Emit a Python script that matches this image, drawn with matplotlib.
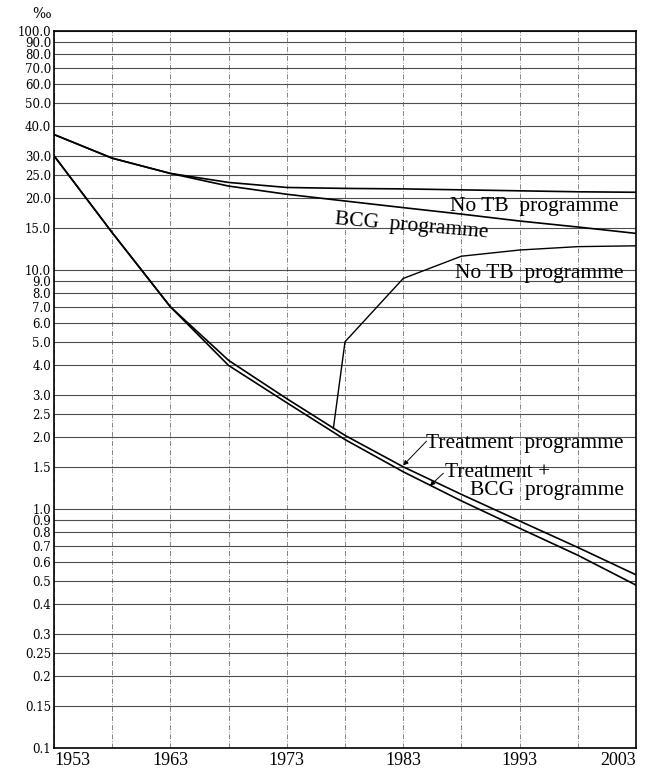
# TB incidence projections under different programmes (log scale, per mille)
import matplotlib.pyplot as plt

years = [1953, 1958, 1963, 1968, 1973, 1978, 1983, 1988, 1993, 1998, 2003]
no_tb_top = [36.8, 29.3, 25.3, 23.2, 22.1, 21.9, 21.8, 21.6, 21.4, 21.2, 21.1]
bcg = [36.8, 29.3, 25.3, 22.4, 20.7, 19.4, 18.2, 17.1, 16.0, 15.1, 14.2]
treatment = [30.0, 14.3, 7.0, 4.18, 2.89, 2.03, 1.50, 1.15, 0.89, 0.69, 0.53]
treatment_bcg = [30.0, 14.3, 7.0, 3.98, 2.78, 1.95, 1.43, 1.08, 0.83, 0.64, 0.48]
no_tb_low_years = [1977, 1978, 1983, 1988, 1993, 1998, 2003]
no_tb_low = [2.17, 5.0, 9.2, 11.4, 12.1, 12.5, 12.6]

ytick_vals = [0.1, 0.15, 0.2, 0.25, 0.3, 0.4, 0.5, 0.6, 0.7, 0.8, 0.9, 1.0, 1.5,
              2.0, 2.5, 3.0, 4.0, 5.0, 6.0, 7.0, 8.0, 9.0, 10.0, 15.0, 20.0, 25.0,
              30.0, 40.0, 50.0, 60.0, 70.0, 80.0, 90.0, 100.0]
ytick_labels = ['0.1', '0.15', '0.2', '0.25', '0.3', '0.4', '0.5', '0.6', '0.7',
                '0.8', '0.9', '1.0', '1.5', '2.0', '2.5', '3.0', '4.0', '5.0',
                '6.0', '7.0', '8.0', '9.0', '10.0', '15.0', '20.0', '25.0', '30.0',
                '40.0', '50.0', '60.0', '70.0', '80.0', '90.0', '100.0']
xtick_major = [1953, 1963, 1973, 1983, 1993, 2003]
xtick_minor = [1958, 1968, 1978, 1988, 1998]

fig = plt.figure(figsize=(6.46, 7.70), dpi=100)
ax = fig.add_axes([0.0836, 0.0286, 0.9009, 0.9315])
ax.set_yscale('log')
ax.set_xlim(1953, 2003)
ax.set_ylim(0.1, 100)

ax.set_yticks(ytick_vals)
ax.set_yticklabels(ytick_labels, family='DejaVu Serif', fontsize=8.5)
ax.yaxis.set_minor_locator(plt.NullLocator())
ax.set_xticks(xtick_major)
ax.set_xticklabels([str(y) for y in xtick_major], family='Liberation Serif', fontsize=13)
ax.set_xticks(xtick_minor, minor=True)
ax.tick_params(which='both', length=0)
ax.tick_params(axis='y', pad=2)
ax.tick_params(axis='x', pad=3)
xl = ax.get_xticklabels()
xl[0].set_ha('left')
xl[-1].set_ha('right')

ax.grid(True, axis='y', which='major', color='0.3', lw=0.8)
ax.grid(True, axis='x', which='both', color='0.45', lw=0.6, ls=(0, (6, 2, 1, 2)))
for s in ax.spines.values():
    s.set_linewidth(1.2)

kw = dict(color='black', lw=1.2, zorder=3)
ax.plot(years, no_tb_top, **kw)
ax.plot(years, bcg, **kw)
ax.plot(years, treatment, **kw)
ax.plot(years, treatment_bcg, **kw)
ax.plot(no_tb_low_years, no_tb_low, color='black', lw=1.0, zorder=3)

tf = dict(family='Liberation Serif', fontsize=15.5, va='baseline', ha='left')
ax.text(1987.0, 17.7, 'No TB  programme', **tf)
ax.text(1977.1, 15.5, 'BCG  programme', rotation=-5, rotation_mode='anchor', **tf)
ax.text(1987.45, 9.2, 'No TB  programme', **tf)
ax.text(1985.0, 1.79, 'Treatment  programme', **tf)
ax.text(1986.6, 1.365, 'Treatment +', **tf)
ax.text(1988.7, 1.144, 'BCG  programme', **tf)

ax.annotate('', xy=(1983.0, 1.52), xytext=(1985.0, 1.92),
            arrowprops=dict(arrowstyle='-|>', color='black', lw=0.7,
                            mutation_scale=7, shrinkA=0, shrinkB=0))
ax.annotate('', xy=(1985.3, 1.25), xytext=(1986.45, 1.41),
            arrowprops=dict(arrowstyle='-|>', color='black', lw=0.7,
                            mutation_scale=7, shrinkA=0, shrinkB=0))

fig.text(42 / 646, 1 - 14 / 770, '‰', family='DejaVu Serif', fontsize=10,
         ha='center', va='center')

plt.savefig('out.png', dpi=100)
